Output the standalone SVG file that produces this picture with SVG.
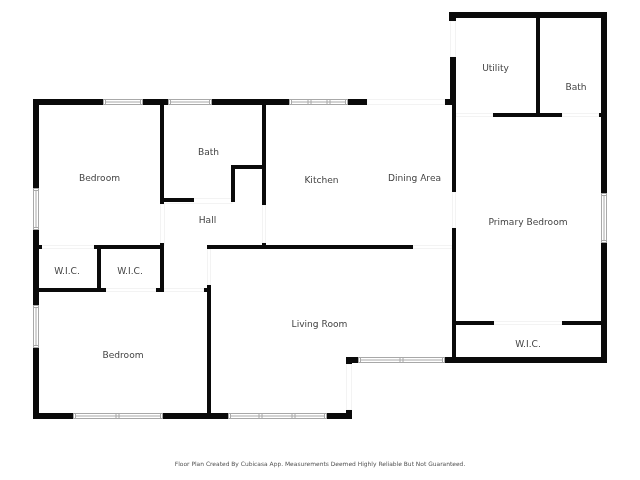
<svg xmlns="http://www.w3.org/2000/svg" width="640" height="480" viewBox="0 0 640 480">
<style>
.w{fill:#0a0a0a}
.win{fill:#fff;stroke:#a8a8a8;stroke-width:1}
.gl{fill:none;stroke:#a8a8a8;stroke-width:1}
.d{fill:#fff;stroke:#f3f3f3;stroke-width:1}
text{font-family:"DejaVu Sans",sans-serif;font-size:9.1px;fill:#444;text-anchor:middle}
.foot{font-size:5.94px;fill:#555}
</style>
<defs><filter id="gray" x="0" y="0" width="640" height="480" filterUnits="userSpaceOnUse" color-interpolation-filters="sRGB"><feOffset dx="0" dy="0"/></filter></defs>
<rect width="640" height="480" fill="#fff"/>
<g id="doors">
<rect class="d" x="162" y="198.500" width="70" height="5"/>
<rect class="d" x="160.500" y="204" width="4" height="41"/>
<rect class="d" x="262.500" y="205" width="3" height="38"/>
<rect class="d" x="39" y="245.500" width="55" height="3"/>
<rect class="d" x="106" y="288.500" width="50" height="3"/>
<rect class="d" x="164" y="288.500" width="40" height="3"/>
<rect class="d" x="207.500" y="249" width="3" height="36"/>
<rect class="d" x="367" y="99.500" width="78" height="5"/>
<rect class="d" x="450.500" y="21" width="5" height="36"/>
<rect class="d" x="452.500" y="192" width="3" height="36"/>
<rect class="d" x="413" y="245.500" width="39" height="3"/>
<rect class="d" x="456" y="113.500" width="37" height="3"/>
<rect class="d" x="562" y="113.500" width="37" height="3"/>
<rect class="d" x="494" y="321.500" width="68" height="3"/>
<rect class="d" x="346.500" y="364" width="5" height="46"/>
</g>
<g id="windows">
<g><rect class="win" x="103.500" y="99.500" width="39" height="5"/><path class="gl" d="M105.500 100v4M140.500 100v4M106 102h34"/></g>
<g><rect class="win" x="168.500" y="99.500" width="43" height="5"/><path class="gl" d="M170.500 100v4M209.500 100v4M171 102h38"/></g>
<g><rect class="win" x="289.500" y="99.500" width="58" height="5"/><path class="gl" d="M291.500 100v4M308 100v4M311 100v4M327 100v4M330 100v4M345.500 100v4M292 102h53"/></g>
<g><rect class="win" x="33.500" y="188.500" width="5" height="41"/><path class="gl" d="M34 190.500h4M34 227.500h4M36 191v36"/></g>
<g><rect class="win" x="33.500" y="305.500" width="5" height="42"/><path class="gl" d="M34 307.500h4M34 345.500h4M36 308v37"/></g>
<g><rect class="win" x="73.500" y="413.500" width="89" height="5"/><path class="gl" d="M75.500 414v4M116 414v4M119 414v4M160.500 414v4M76 416h84"/></g>
<g><rect class="win" x="228.500" y="413.500" width="98" height="5"/><path class="gl" d="M230.500 414v4M259 414v4M262 414v4M292 414v4M295 414v4M324.500 414v4M231 416h93"/></g>
<g><rect class="win" x="358.500" y="357.500" width="86" height="5"/><path class="gl" d="M360.500 358v4M400 358v4M403 358v4M442.500 358v4M361 360h81"/></g>
<g><rect class="win" x="601.500" y="193.500" width="5" height="49"/><path class="gl" d="M602 195.500h4M602 240.500h4M604 196v44"/></g>
</g>
<g id="walls" class="w">
<rect x="33" y="99" width="70" height="6"/>
<rect x="143" y="99" width="25" height="6"/>
<rect x="212" y="99" width="77" height="6"/>
<rect x="348" y="99" width="19" height="6"/>
<rect x="445" y="99" width="8" height="6"/>
<rect x="33" y="99" width="6" height="89"/>
<rect x="33" y="230" width="6" height="75"/>
<rect x="33" y="348" width="6" height="71"/>
<rect x="39" y="245" width="3" height="4"/>
<rect x="94" y="245" width="70" height="4"/>
<rect x="160" y="105" width="4" height="99"/>
<rect x="160" y="243" width="4" height="49"/>
<rect x="97" y="245" width="4" height="47"/>
<rect x="39" y="288" width="67" height="4"/>
<rect x="156" y="288" width="8" height="4"/>
<rect x="204" y="288" width="7" height="4"/>
<rect x="207" y="285" width="4" height="130"/>
<rect x="164" y="198" width="30" height="4"/>
<rect x="231" y="165" width="4" height="37"/>
<rect x="231" y="165" width="34" height="4"/>
<rect x="262" y="105" width="4" height="100"/>
<rect x="262" y="243" width="4" height="3"/>
<rect x="207" y="245" width="206" height="4"/>
<rect x="33" y="413" width="40" height="6"/>
<rect x="163" y="413" width="65" height="6"/>
<rect x="327" y="413" width="25" height="6"/>
<rect x="346" y="410" width="6" height="9"/>
<rect x="346" y="357" width="12" height="6"/>
<rect x="346" y="357" width="6" height="7"/>
<rect x="445" y="357" width="162" height="6"/>
<rect x="449" y="12" width="158" height="6"/>
<rect x="449" y="12" width="7" height="9"/>
<rect x="450" y="57" width="6" height="48"/>
<rect x="452" y="105" width="4" height="87"/>
<rect x="452" y="228" width="4" height="130"/>
<rect x="601" y="12" width="6" height="181"/>
<rect x="601" y="243" width="6" height="120"/>
<rect x="536" y="18" width="4" height="97"/>
<rect x="493" y="113" width="69" height="4"/>
<rect x="599" y="113" width="2" height="4"/>
<rect x="456" y="321" width="38" height="4"/>
<rect x="562" y="321" width="39" height="4"/>
</g>
<g id="labels" filter="url(#gray)">
<text x="99.500" y="181">Bedroom</text>
<text x="208.500" y="155">Bath</text>
<text x="207.500" y="223">Hall</text>
<text x="321.500" y="183">Kitchen</text>
<text x="414.500" y="181">Dining Area</text>
<text x="495.500" y="71">Utility</text>
<text x="576" y="90">Bath</text>
<text x="528" y="225">Primary Bedroom</text>
<text x="528" y="347">W.I.C.</text>
<text x="67" y="274">W.I.C.</text>
<text x="130" y="274">W.I.C.</text>
<text x="123" y="358">Bedroom</text>
<text x="319.500" y="327">Living Room</text>
<text class="foot" x="320" y="466">Floor Plan Created By Cubicasa App. Measurements Deemed Highly Reliable But Not Guaranteed.</text>
</g>
</svg>
